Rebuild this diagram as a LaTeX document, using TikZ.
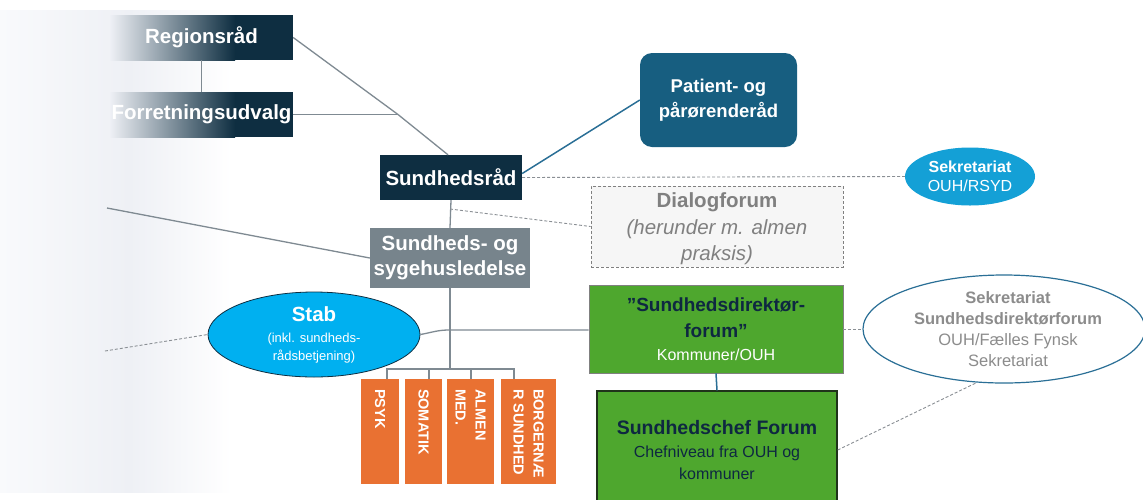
\documentclass[tikz,border=0pt]{standalone}
\usepackage{fontspec}
\setmainfont{Liberation Sans}
\usetikzlibrary{shapes.geometric,calc}
\definecolor{navy}{HTML}{0E2E41}
\definecolor{patc}{HTML}{175E80}
\definecolor{grayc}{HTML}{77848C}
\definecolor{sekc}{HTML}{14A0D6}
\definecolor{stabc}{HTML}{00B0F0}
\definecolor{greenc}{HTML}{4EA72E}
\definecolor{orangec}{HTML}{E97132}
\definecolor{darktxt}{HTML}{0E2841}
\definecolor{linec}{HTML}{7F8A92}
\definecolor{tealc}{HTML}{2A6F96}
\definecolor{dashc}{HTML}{8A8F94}
\definecolor{bgA}{HTML}{F9FAFC}
\definecolor{bgB}{HTML}{EEF0F5}
\definecolor{diafill}{HTML}{F6F6F6}
\definecolor{diatxt}{HTML}{808080}
\definecolor{sektxt}{HTML}{8C8C8C}
\definecolor{scfborder}{HTML}{1F331A}
\begin{document}
\begin{tikzpicture}[x=1pt,y=-1pt,
  big/.style={font=\bfseries\fontsize{20.5}{25}\selectfont},
  plainbox/.style={inner sep=0pt, align=center},
  conn/.style={draw=linec, line width=1.3pt},
  tconn/.style={draw=tealc, line width=1.5pt},
  dconn/.style={draw=dashc, line width=0.9pt, dash pattern=on 3pt off 2pt},
  obox/.style={fill=orangec, text=white, rotate=-90, minimum width=105pt,
    inner xsep=4pt, inner ysep=0pt, text width=97pt, align=flush left,
    font=\bfseries\fontsize{14.5}{20}\selectfont}
]
\useasboundingbox (0,0) rectangle (1143,499);
\fill[white] (0,0) rectangle (1143,499);
% background fade on the left
\shade[left color=bgA, right color=bgB] (0,10) rectangle (130,492);
\shade[left color=bgB, right color=white] (129.5,10) rectangle (232,492);
% gradient boxes
\shade[left color=bgB, right color=navy] (110,15) rectangle (235,60);
\fill[navy] (234.5,15) rectangle (293,60);
\shade[left color=bgB, right color=navy] (110,92) rectangle (235,137);
\fill[navy] (234.5,92) rectangle (293,137);

% nodes
\node[plainbox, big, text=white, minimum width=183pt, minimum height=45pt] (reg) at (201.5,37.5) {Regionsråd};
\node[plainbox, big, text=white, minimum width=183pt, minimum height=45pt] (fu) at (201.5,114.5) {Forretningsudvalg};
\node[plainbox, big, fill=navy, text=white, minimum width=142pt, minimum height=45pt] (sr) at (451,177.5) {Sundhedsråd};
\node[plainbox, fill=patc, rounded corners=12pt, text=white, minimum width=157pt, minimum height=94pt,
  font=\bfseries\fontsize{18.5}{25}\selectfont] (pp) at (718.5,100) {Patient- og\\pårørenderåd};
\node[ellipse, plainbox, fill=sekc, text=white, minimum width=130pt, minimum height=58pt,
  font=\fontsize{16}{19}\selectfont] (sek1) at (970,176.5) {\textbf{Sekretariat}\\OUH/RSYD};
\node[plainbox, fill=diafill, draw=diatxt, line width=0.9pt, dash pattern=on 3pt off 2pt,
  text=diatxt, minimum width=252pt, minimum height=81pt,
  font=\fontsize{20.5}{26.5}\selectfont] (dia) at (717,226.5)
  {\rule{0pt}{20pt}\textbf{Dialogforum}\\\textit{(herunder m. almen}\\\textit{praksis)}};
\node[plainbox, big, fill=grayc, text=white, minimum width=160pt, minimum height=60pt] (ssl) at (450,258) {Sundheds- og\\sygehusledelse};
\node[ellipse, plainbox, fill=stabc, draw=navy, line width=0.8pt, text=white,
  minimum width=212pt, minimum height=85pt, font=\fontsize{13}{17.5}\selectfont] (stab) at (314,334.5)
  {{\fontsize{20.5}{20}\selectfont\bfseries Stab}\\[4pt](inkl. sundheds-\\rådsbetjening)};
\node[plainbox, fill=greenc, draw=gray, line width=0.9pt, minimum width=254pt, minimum height=88pt,
  text=darktxt, font=\fontsize{19}{26}\selectfont] (sdf) at (716,329)
  {\textbf{”Sundhedsdirektør-}\\\textbf{forum”}\\[-3pt]{\fontsize{16}{19}\selectfont\color{white}Kommuner/OUH}};
\node[plainbox, fill=greenc, draw=scfborder, line width=1.4pt, minimum width=240pt, minimum height=118pt,
  text=darktxt, font=\fontsize{16}{21.5}\selectfont] (scf) at (717,450)
  {{\fontsize{19.5}{20}\selectfont\bfseries Sundhedschef Forum}\\[2pt]Chefniveau fra OUH og\\kommuner};
\node[ellipse, plainbox, fill=white, draw=tealc, line width=1.2pt, minimum width=282pt, minimum height=108pt,
  text=sektxt, font=\fontsize{16.5}{21}\selectfont] (sek2) at (1004,329)
  {\hspace*{8pt}\textbf{Sekretariat}\\\hspace*{8pt}\textbf{Sundhedsdirektørforum}\\\hspace*{8pt}OUH/Fælles Fynsk\\\hspace*{8pt}Sekretariat};
% orange boxes
\node[obox, minimum height=38pt] (psyk) at (380,431.5) {\hspace*{6pt}PSYK};
\node[obox, minimum height=37pt] (som) at (423.5,431.5) {\hspace*{6pt}SOMATIK};
\node[obox, minimum height=47pt] (alm) at (470.5,431.5) {\hspace*{6pt}ALMEN\\\hspace*{6pt}MED.};
\node[obox, minimum height=55pt] (bor) at (528.5,431.5) {\hspace*{6pt}BORGERNÆ\\\hspace*{6pt}R SUNDHED};

% helper coordinates
\coordinate (J) at (398,114.5);
\coordinate (L1) at (107,208);
\coordinate (L2) at (105,351);
\coordinate (D) at (450,209);
\coordinate (B) at (450,369);
\coordinate (S) at (449,330);

% connectors
\draw[conn] (reg.south) -- (fu.north);
\draw[conn] (reg.east) -- (J) -- ($(sr.north)+(-3,0)$);
\draw[conn] (fu.east) -- (J);
\draw[tconn] ($(sr.east)+(0,-4)$) -- (pp.west);
\draw[dconn] (sr.east) -- (sek1.west);
\draw[conn] (sr.south) -- (ssl.north);
\draw[dconn] (D) -- (dia.west);
\draw[conn] (L1) -- (ssl.west);
\draw[conn] (ssl.south) -- (B);
\draw[conn] ($(psyk.west)+(7,0)$) |- (B);
\draw[conn] ($(bor.west)+(-14.5,0)$) |- (B);
\draw[conn] ($(som.west)+(5.5,0)$) -- ($(som.west)+(5.5,-10)$);
\draw[conn] ($(alm.west)+(0.5,0)$) -- ($(alm.west)+(0.5,-10)$);
\draw[conn] (stab.east) to[out=10,in=180] (S) -- (S -| sdf.west);
\draw[dconn] (L2) -- (stab.west);
\draw[tconn] (sdf.south) -- (scf.north);
\draw[dconn] (sdf.east) -- (sek2.west);
\draw[dconn] (scf.east) -- (sek2.243);
\end{tikzpicture}
\end{document}
